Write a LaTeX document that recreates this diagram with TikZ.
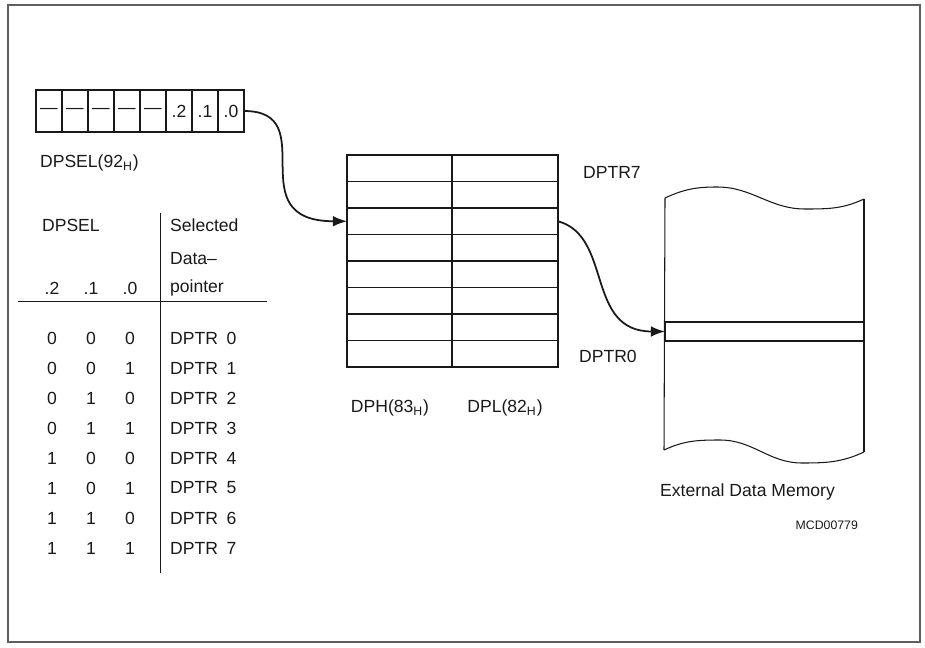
\documentclass[tikz,border=0pt]{standalone}
\usepackage{fontspec}
\setmainfont{Liberation Sans}
\usetikzlibrary{arrows.meta}
\definecolor{inkblack}{RGB}{25, 25, 25}
\definecolor{framegray}{RGB}{95, 95, 95}

\begin{document}
\begin{tikzpicture}[x=0.02cm, y=-0.02cm,
    every node/.style={font=\normalsize, inner sep=1pt, text=inkblack},
    regcell/.style={draw=inkblack, line width=0.6pt, minimum width=0.52cm, minimum height=0.84cm, inner sep=0pt, outer sep=0pt},
    ptrcell/.style={draw=inkblack, line width=0.6pt, minimum width=2.1cm, minimum height=0.53cm, inner sep=0pt, outer sep=0pt},
    selarrow/.style={-{Latex[length=8pt, width=6pt]}, inkblack, line width=1pt}]
    \useasboundingbox (0,0) rectangle (925,648);
    \draw[framegray, line width=0.6pt] (8,5) rectangle (920,642);

    % DPSEL register
    \foreach \txt [count=\i from 0] in {\textemdash,\textemdash,\textemdash,\textemdash,\textemdash,.2,.1,.0}
        \node[regcell] (reg\i) at ({49+26*\i},111) {\txt};
    \node[anchor=west] (dpsellabel) at (38,163) {DPSEL(92\textsubscript{H})};

    % Selection table
    \node[anchor=west] (selhead) at (40,225) {DPSEL};
    \node[anchor=west] (ptrhead) at (168,225) {Selected};
    \node[anchor=west] (ptrheadb) at (168,259) {Data\textendash};
    \node[anchor=west] (ptrheadc) at (168,288) {pointer};
    \foreach \b [count=\i from 0] in {.2,.1,.0}
        \node (bithead\i) at ({52+39*\i},288) {\b};
    \draw[inkblack, line width=0.5pt] (18,301) -- (267,301);
    \draw[inkblack, line width=0.5pt] (160,213) -- (160,573);
    \foreach \a/\b/\c [count=\n from 0] in {0/0/0,0/0/1,0/1/0,0/1/1,1/0/0,1/0/1,1/1/0,1/1/1} {
        \node (bita\n) at (52,{338+30*\n}) {\a};
        \node (bitb\n) at (91,{338+30*\n}) {\b};
        \node (bitc\n) at (130,{338+30*\n}) {\c};
        \node[anchor=west] (ptr\n) at (168,{338+30*\n}) {DPTR\hspace{0.5em}\n};
    }

    % Data pointer array
    \foreach \k in {0,...,7} {
        \node[ptrcell] (dph\k) at (399.5,{168.25+26.5*\k}) {};
        \node[ptrcell, minimum width=2.12cm] (dpl\k) at (505,{168.25+26.5*\k}) {};
    }
    \node[anchor=west] (dptrseven) at (581,172) {DPTR7};
    \node[anchor=west] (dptrzero) at (577,356) {DPTR0};
    \node (dphlabel) at (390,408) {DPH(83\textsubscript{H})};
    \node (dpllabel) at (505,408) {DPL(82\textsubscript{H})};

    % External data memory
    \draw[inkblack, line width=0.6pt] (665,198) to[out=25,in=180] (717,187) to[out=0,in=180] (805,209) to[out=0,in=205] (864,199);
    \draw[inkblack, line width=0.6pt] (664,450) to[out=25,in=180] (720,440) to[out=0,in=180] (802,463) to[out=0,in=205] (864,452);
    \draw[inkblack, line width=0.6pt] (665,198) -- (664,450);
    \draw[inkblack, line width=0.6pt] (864,199) -- (864,452);
    \node[draw=inkblack, line width=0.6pt, minimum width=3.98cm, minimum height=0.38cm, inner sep=0pt, outer sep=0pt] (slot) at (764.5,331.5) {};
    \node[anchor=west] (memlabel) at (658,492) {External Data Memory};
    \node[anchor=east, font=\scriptsize] (figid) at (860,525) {MCD00779};

    % Connectors
    \draw[selarrow] (reg7.east) .. controls +(80,0) and +(-110,0) .. (dph2.west);
    \draw[selarrow] (dpl2.east) .. controls +(55,15) and +(-80,0) .. (slot.west);
\end{tikzpicture}
\end{document}
